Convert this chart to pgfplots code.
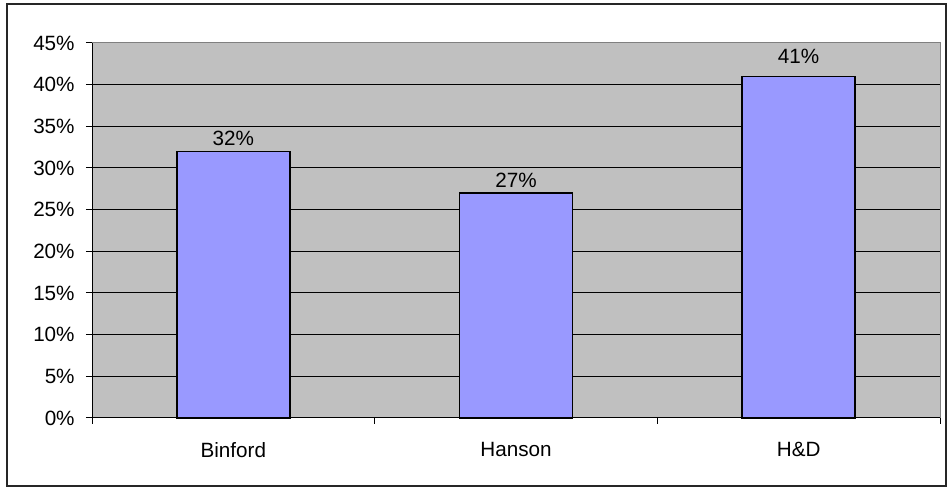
\documentclass[border=0pt]{standalone}
\usepackage{pgfplots}
\pgfplotsset{compat=1.18}
\usepackage{fontspec}
\setmainfont{Liberation Sans}
\definecolor{bg}{HTML}{C0C0C0}
\definecolor{barc}{HTML}{9999FF}
\definecolor{frame}{HTML}{808080}
\begin{document}
\begin{tikzpicture}
\useasboundingbox (-69pt,-52.5pt) rectangle (642pt,313.5pt);
\draw[line width=0.9pt, black!85] (-63.75pt,-51pt) rectangle (640.5pt,310.5pt);
\begin{axis}[
  scale only axis,
  width=636pt, height=281.25pt,
  xmin=-0.5, xmax=2.5, ymin=0, ymax=45,
  axis background/.style={fill=bg},
  axis x line*=bottom, axis y line*=left,
  axis line style={black, line width=0.75pt},
  xtick={0,1,2},
  xticklabels={Binford,Hanson,H\&D},
  major x tick style={draw=none},
  minor xtick={-0.5,0.5,1.5,2.5},
  minor x tick style={black, line width=0.75pt},
  minor tick length=4.5pt,
  ytick={0,5,...,45},
  yticklabel={\pgfmathprintnumber{\tick}\%},
  major y tick style={black, line width=0.75pt},
  major tick length=4.5pt,
  tick align=outside,
  ymajorgrids,
  grid style={black, line width=0.75pt},
  /pgf/number format/assume math mode=true,
  ticklabel style={font=\fontsize{15.5}{17}\selectfont},
  xticklabel style={yshift=-10pt},
  yticklabel style={xshift=-5pt},
  clip=false,
]
\addplot[ybar, bar width=84.75pt, fill=barc, draw=black, line width=1.1pt,
  visualization depends on={\thisrow{s} \as \labshift},
  nodes near coords={\pgfmathprintnumber{\pgfplotspointmeta}\%},
  nodes near coords style={font=\fontsize{15.5}{17}\selectfont, black, yshift=\labshift pt},
] table {
x y s
0 32 0
1 27 0
2 41 6
};
\draw[frame, line width=0.75pt] (rel axis cs:0,1) -- (rel axis cs:1,1) -- (rel axis cs:1,0);
\end{axis}
\end{tikzpicture}
\end{document}
